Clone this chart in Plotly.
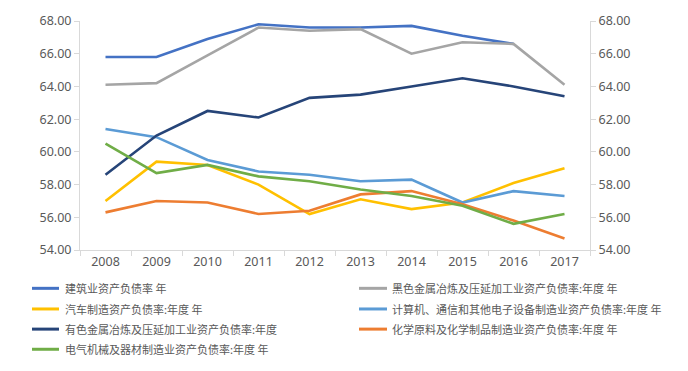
import plotly.graph_objects as go

years = ["2008", "2009", "2010", "2011", "2012", "2013", "2014", "2015", "2016", "2017"]

names = [
    "建筑业资产负债率 年",
    "黑色金属冶炼及压延加工业资产负债率:年度 年",
    "汽车制造资产负债率:年度 年",
    "计算机、通信和其他电子设备制造业资产负债率:年度 年",
    "有色金属冶炼及压延加工业资产负债率:年度",
    "化学原料及化学制品制造业资产负债率:年度 年",
    "电气机械及器材制造业资产负债率:年度 年",
]

construction = [65.8, 65.8, 66.9, 67.8, 67.6, 67.6, 67.7, 67.1, 66.6, None]
ferrous = [64.1, 64.2, 65.9, 67.6, 67.4, 67.5, 66.0, 66.7, 66.6, 64.1]
auto = [57.0, 59.4, 59.2, 58.0, 56.2, 57.1, 56.5, 56.9, 58.1, 59.0]
computer = [61.4, 60.9, 59.5, 58.8, 58.6, 58.2, 58.3, 56.9, 57.6, 57.3]
nonferrous = [58.6, 61.0, 62.5, 62.1, 63.3, 63.5, 64.0, 64.5, 64.0, 63.4]
chemical = [56.3, 57.0, 56.9, 56.2, 56.4, 57.4, 57.6, 56.8, 55.8, 54.7]
electrical = [60.5, 58.7, 59.2, 58.5, 58.2, 57.7, 57.3, 56.7, 55.6, 56.2]

series = [construction, ferrous, auto, computer, nonferrous, chemical, electrical]
colors = ["#4472C4", "#A5A5A5", "#FFC000", "#5B9BD5", "#264478", "#ED7D31", "#70AD47"]

tickvals = [54, 56, 58, 60, 62, 64, 66, 68]
ticktext = ["%.2f" % v for v in tickvals]

W, H = 688, 371
ML, MR, MT, MB = 80, 98, 17, 121
PW, PH = W - ML - MR, H - MT - MB

fig = go.Figure()
for name, vals, c in zip(names, series, colors):
    fig.add_trace(go.Scatter(x=years, y=vals, name=name, mode="lines",
                             line=dict(color=c, width=2.6), connectgaps=False))
# invisible trace to activate the right-hand axis
fig.add_trace(go.Scatter(x=years, y=ferrous, yaxis="y2", mode="lines",
                         line=dict(width=0), showlegend=False, hoverinfo="skip", opacity=0))

# manual two-column legend (below the plot)
def px_x(p):
    return (p - ML) / PW

def px_y(p):
    return (H - MB - p) / PH

row_px = [289, 310, 330.5, 351]
col_line = [(32, 59), (359, 387)]
col_text = [63, 390]
shapes = []
annotations = []
for i, (name, c) in enumerate(zip(names, colors)):
    r, col = i // 2, i % 2
    yp = px_y(row_px[r])
    x0, x1 = col_line[col]
    shapes.append(dict(type="line", xref="paper", yref="paper",
                       x0=px_x(x0), x1=px_x(x1), y0=yp, y1=yp,
                       line=dict(color=c, width=3)))
    annotations.append(dict(xref="paper", yref="paper", x=px_x(col_text[col]), y=yp,
                            xanchor="left", yanchor="middle", text=name, showarrow=False,
                            font=dict(family="Noto Sans CJK SC, sans-serif", size=11,
                                      color="#595959")))

axis_font = dict(family="Noto Sans, Open Sans, sans-serif", size=12.5, color="#595959")
yax = dict(range=[54, 68], tickvals=tickvals, ticktext=ticktext, showgrid=False,
           zeroline=False, showline=True, linecolor="#D9D9D9", linewidth=1,
           ticks="outside", ticklen=5, tickcolor="#D9D9D9", tickfont=axis_font)

fig.update_layout(
    width=W, height=H,
    margin=dict(l=ML, r=MR, t=MT, b=MB),
    plot_bgcolor="white", paper_bgcolor="white",
    font=dict(family="Noto Sans CJK SC, sans-serif", color="#595959"),
    xaxis=dict(type="category", range=[-0.5, 9.5], showgrid=False, zeroline=False,
               showline=True, linecolor="#D9D9D9", linewidth=1, ticks="outside",
               ticklen=5, tickcolor="#D9D9D9", tickson="boundaries", tickfont=axis_font),
    yaxis=yax,
    yaxis2=dict(yax, overlaying="y", side="right"),
    showlegend=False,
    shapes=shapes,
    annotations=annotations,
)

fig.write_html("out.html", config={"displayModeBar": False},
               post_script="document.body.style.margin='0';")
